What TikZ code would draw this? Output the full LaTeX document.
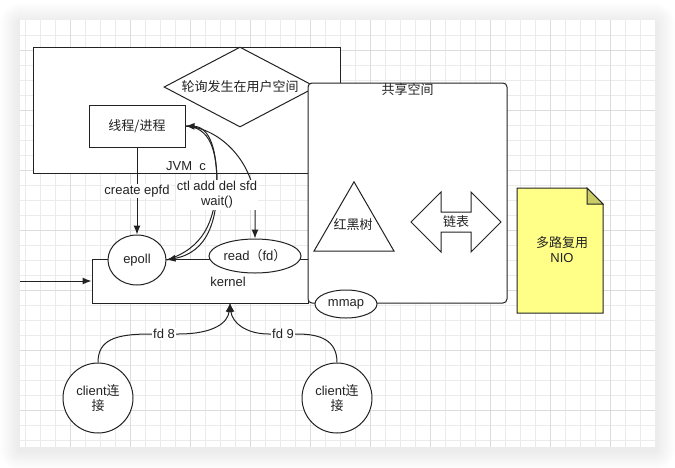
\documentclass[tikz,border=0pt]{standalone}
\usepackage{fontspec}
\setmainfont{Liberation Sans}
\newfontfamily\cjk{Noto Sans CJK SC}
\usepackage{tikz}
\usetikzlibrary{arrows.meta,positioning,shapes.geometric}
\definecolor{gridminor}{HTML}{EBEBEB}
\definecolor{gridmajor}{HTML}{DCDCDC}
\definecolor{notefill}{HTML}{FFFF88}
\definecolor{notefold}{HTML}{CCCC66}
\definecolor{ink}{HTML}{222222}

\begin{document}
\begin{tikzpicture}[x=1pt,y=-1pt,
  every node/.style={font=\fontsize{13}{15}\selectfont,text=ink},
  box/.style={draw=ink,line width=1pt,fill=white,inner sep=0pt},
  blob/.style={box,ellipse},
  lbl/.style={fill=white,inner sep=1pt,align=center},
  arr/.style={draw=ink,line width=1pt,-{Latex[length=9pt,width=7pt]}}]
  \useasboundingbox (0,0) rectangle (675,467);
  % card, shadow and grid
  \foreach \s in {2,...,20}
    \fill[black,opacity=0.005,rounded corners=\s pt] (20-\s,20-\s+3) rectangle (655+\s,447+\s+3);
  \fill[white] (20,20) rectangle (655,447);
  \foreach \gx in {25,40,...,640} \draw[gridminor,line width=1pt] (\gx,20) -- (\gx,447);
  \foreach \gy in {35,50,...,440} \draw[gridminor,line width=1pt] (20,\gy) -- (655,\gy);
  \foreach \gx in {70,130,...,610} \draw[gridmajor,line width=1pt] (\gx,20) -- (\gx,447);
  \foreach \gy in {50,110,...,410} \draw[gridmajor,line width=1pt] (20,\gy) -- (655,\gy);

  % user space
  \node[box,minimum width=307pt,minimum height=126pt] (jvm) at (186.5,110) {};
  \node[box,diamond,aspect=1.9,minimum width=152pt,minimum height=80pt] (poll) at (240,87) {{\cjk 轮询发生在用户空间}};
  \node[box,minimum width=96pt,minimum height=42pt] (thread) at (137,126) {{\cjk 线程/进程}};
  \node (jvmlbl) at (186,166) {JVM~~c};

  % kernel
  \node[box,minimum width=216pt,minimum height=44pt] (kernel) at (200,281) {};
  \node (kernlbl) at (228,282) {kernel};

  % shared space
  \node[box,rounded corners=4pt,minimum width=199pt,minimum height=220pt] (shared) at (407.5,193) {};
  \node[below=-3pt of shared.north] (sharedlbl) {{\cjk 共享空间}};
  \node[box,regular polygon,regular polygon sides=3,minimum size=92.4pt] (rbtree) at (354,228) {};
  \node (rblbl) at (353,225) {{\cjk 红黑树}};
  \draw[box] (411,222) -- (441,192) -- (441,212) -- (471,212) -- (471,192) -- (501,222)
    -- (471,252) -- (471,232) -- (441,232) -- (441,252) -- cycle;
  \node (list) at (456,222) {{\cjk 链表}};

  % note
  \draw[box,fill=notefill] (517,188) -- (587,188) -- (603,204) -- (603,313) -- (517,313) -- cycle;
  \draw[box,fill=notefold] (587,188) -- (587,204) -- (603,204) -- cycle;
  \node[align=center] (nio) at (562,250) {{\cjk 多路复用}\\NIO};

  % calls
  \node[blob,minimum width=58pt,minimum height=50pt] (epoll) at (137,260) {epoll};
  \node[blob,minimum width=92pt,minimum height=34pt] (readfd) at (255,256) {read{\cjk （}fd{\cjk ）}};
  \node[blob,minimum width=62pt,minimum height=28pt] (mmap) at (346,304) {mmap};
  \node[box,circle,minimum size=70pt,align=center] (client1) at (98,398) {client{\cjk 连}\\{\cjk 接}};
  \node[box,circle,minimum size=70pt,align=center] (client2) at (337,398) {client{\cjk 连}\\{\cjk 接}};
  \coordinate (kin) at (230,303);
  \coordinate (lin) at (20,281);

  \draw[arr] (lin) -- (kernel.west);
  \draw[arr] (thread.south) -- node[lbl] (epfdlbl) {create epfd} (epoll.north);
  \draw[arr] (thread.east) .. controls (210,127) and (217,150) .. (217,185)
    .. controls (217,220) and (208,252) .. (epoll.east);
  \draw[arr] (epoll.east) .. controls (204,248) and (214,222) .. (217,185)
    .. controls (217,150) and (210,127) .. (thread.east);
  \draw[arr] (thread.east) .. controls (222,128) and (255,165) .. (255,205) -- (readfd.north);
  \node[lbl] (ctllbl) at (217,195) {ctl add del sfd\\wait()};

  \draw[arr] (client1.north) .. controls (98,340) and (115,334) .. (150,334)
    -- node[lbl] (fd8) {fd 8} (178,334) .. controls (215,334) and (228,322) .. (kin);
  \draw[arr] (client2.north) .. controls (337,340) and (320,334) .. (297,334)
    -- node[lbl] (fd9) {fd 9} (269,334) .. controls (245,334) and (232,322) .. (kin);
\end{tikzpicture}
\end{document}
